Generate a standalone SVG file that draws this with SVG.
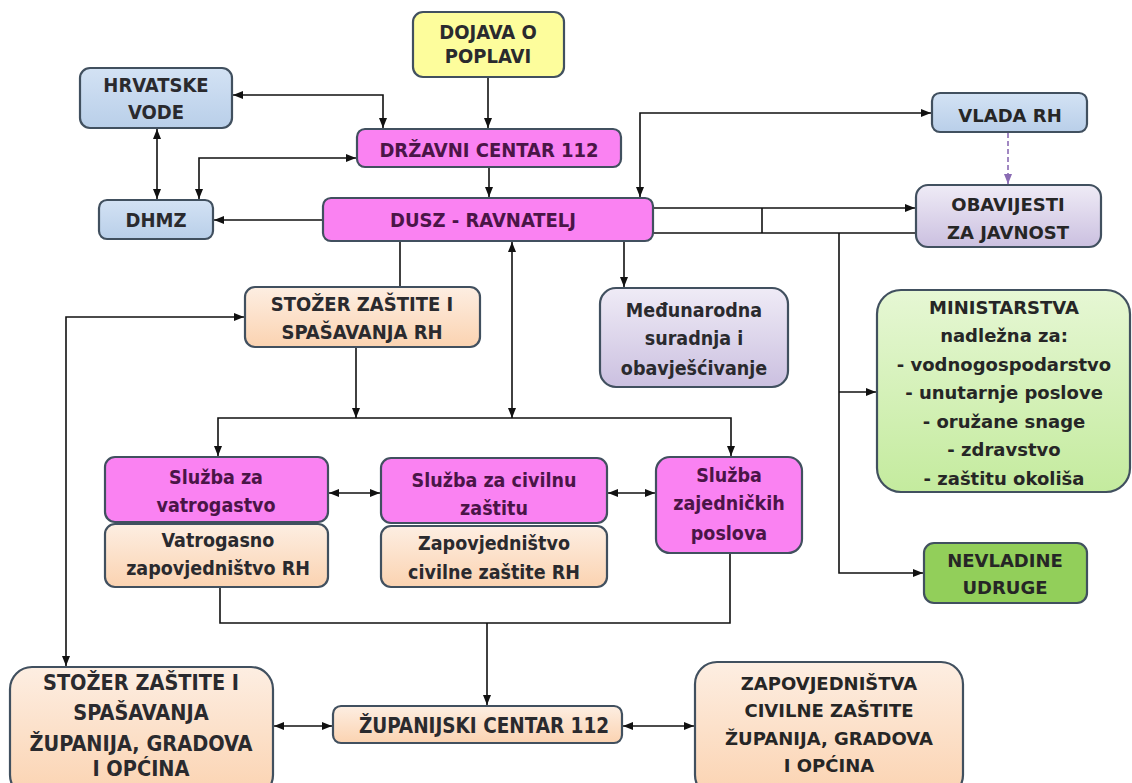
<svg xmlns="http://www.w3.org/2000/svg" width="1132" height="783" viewBox="0 0 1132 783">
<style>
.box{stroke:#41505f;stroke-width:2.2}
.mag{fill:#fa82f2}
.peach{fill:url(#gPeach)}
.blue{fill:url(#gBlue)}
.lav{fill:url(#gLav)}
.lgreen{fill:url(#gLGreen)}
.green{fill:#92cf5a}
.yellow{fill:#fdfd9c}
.t{font-family:"DejaVu Sans Condensed","DejaVu Sans",sans-serif;font-stretch:condensed;font-weight:bold;font-size:20px;text-anchor:middle;fill:#2a2a2e}
.l{font-size:19.5px}
.tm{fill:#4a1547}
.tb{font-family:"DejaVu Sans",sans-serif;font-weight:bold;font-size:18px;text-anchor:middle;fill:#262626}
.c{fill:none;stroke:#111;stroke-width:1.6}
.d{fill:none;stroke:#8a6bb3;stroke-width:1.6;stroke-dasharray:5 3}
</style>
<defs>
<linearGradient id="gPeach" x1="0" y1="0" x2="0" y2="1"><stop offset="0" stop-color="#fdeee2"/><stop offset="1" stop-color="#fbd3b1"/></linearGradient>
<linearGradient id="gBlue" x1="0" y1="0" x2="0" y2="1"><stop offset="0" stop-color="#d3e2f4"/><stop offset="1" stop-color="#b9cfe9"/></linearGradient>
<linearGradient id="gLav" x1="0" y1="0" x2="0" y2="1"><stop offset="0" stop-color="#efebf6"/><stop offset="1" stop-color="#cbc0e0"/></linearGradient>
<linearGradient id="gLGreen" x1="0" y1="0" x2="0" y2="1"><stop offset="0" stop-color="#e6f7d4"/><stop offset="1" stop-color="#c4eb9e"/></linearGradient>
<marker id="ar" viewBox="0 0 10 8" refX="10" refY="4" markerWidth="10" markerHeight="8" markerUnits="userSpaceOnUse" orient="auto-start-reverse"><path d="M0,0 L10,4 L0,8 z" fill="#111"/></marker>
<marker id="arp" viewBox="0 0 10 8" refX="10" refY="4" markerWidth="10" markerHeight="8" markerUnits="userSpaceOnUse" orient="auto"><path d="M0,0 L10,4 L0,8 z" fill="#8a6bb3"/></marker>
</defs>
<rect width="1132" height="783" fill="#ffffff"/>

<g id="connectors">
<path class="c" d="M488,78 V128" marker-end="url(#ar)"/>
<path class="c" d="M233,95 H383 V128" marker-start="url(#ar)" marker-end="url(#ar)"/>
<path class="c" d="M157,129 V199" marker-start="url(#ar)" marker-end="url(#ar)"/>
<path class="c" d="M356,158 H199 V199" marker-start="url(#ar)" marker-end="url(#ar)"/>
<path class="c" d="M489,168 V197" marker-end="url(#ar)"/>
<path class="c" d="M323,220 H214" marker-end="url(#ar)"/>
<path class="c" d="M640,197 V113 H931" marker-start="url(#ar)" marker-end="url(#ar)"/>
<path class="d" d="M1008,133 V184" marker-end="url(#arp)"/>
<path class="c" d="M653,208 H915" marker-end="url(#ar)"/>
<path class="c" d="M653,233 H916"/>
<path class="c" d="M762,208 V233"/>
<path class="c" d="M839,233 V573 H923" marker-end="url(#ar)"/>
<path class="c" d="M839,392 H876" marker-end="url(#ar)"/>
<path class="c" d="M624,241 V287" marker-end="url(#ar)"/>
<path class="c" d="M400,241 V287"/>
<path class="c" d="M512,242 V418" marker-start="url(#ar)" marker-end="url(#ar)"/>
<path class="c" d="M356,348 V418" marker-end="url(#ar)"/>
<path class="c" d="M218,456 V418 H731 V456" marker-start="url(#ar)" marker-end="url(#ar)"/>
<path class="c" d="M244,317 H66 V666" marker-start="url(#ar)" marker-end="url(#ar)"/>
<path class="c" d="M329,493 H380" marker-start="url(#ar)" marker-end="url(#ar)"/>
<path class="c" d="M608,493 H655" marker-start="url(#ar)" marker-end="url(#ar)"/>
<path class="c" d="M220,588 V623 H730 V554"/>
<path class="c" d="M487,623 V705" marker-end="url(#ar)"/>
<path class="c" d="M274,726 H332" marker-start="url(#ar)" marker-end="url(#ar)"/>
<path class="c" d="M623,726 H694" marker-start="url(#ar)" marker-end="url(#ar)"/>
</g>

<g id="dojava">
<rect class="box yellow" x="413" y="12" width="151" height="65" rx="10"/>
<text class="t" x="488" y="39">DOJAVA O</text>
<text class="t" x="488" y="63">POPLAVI</text>
</g>
<g id="hrvatske-vode">
<rect class="box blue" x="80" y="68" width="152" height="60" rx="10"/>
<text class="t" x="156" y="92">HRVATSKE</text>
<text class="t" x="156" y="119">VODE</text>
</g>
<g id="drzavni-centar">
<rect class="box mag" x="357" y="129" width="264" height="38" rx="8"/>
<text class="t tm" x="489" y="157">DRŽAVNI CENTAR 112</text>
</g>
<g id="vlada">
<rect class="box blue" x="932" y="93" width="155" height="39" rx="8"/>
<text class="tb" x="1010" y="121.5">VLADA RH</text>
</g>
<g id="dhmz">
<rect class="box blue" x="99" y="200" width="114" height="39" rx="8"/>
<text class="t" x="156" y="227">DHMZ</text>
</g>
<g id="dusz">
<rect class="box mag" x="323" y="198" width="330" height="43" rx="8"/>
<text class="t tm" x="483" y="227">DUSZ - RAVNATELJ</text>
</g>
<g id="obavijesti">
<rect class="box lav" x="916" y="185" width="185" height="62" rx="12"/>
<text class="tb" x="1008" y="210.5">OBAVIJESTI</text>
<text class="tb" x="1008" y="238.5">ZA JAVNOST</text>
</g>
<g id="stozer-rh">
<rect class="box peach" x="245" y="287" width="235" height="60" rx="10"/>
<text class="t" x="362" y="311">STOŽER ZAŠTITE I</text>
<text class="t" x="362" y="339">SPAŠAVANJA RH</text>
</g>
<g id="medunarodna">
<rect class="box lav" x="600" y="288" width="188" height="99" rx="16"/>
<text class="t l" x="694" y="317">Međunarodna</text>
<text class="t l" x="694" y="345">suradnja i</text>
<text class="t l" x="694" y="375">obavješćivanje</text>
</g>
<g id="ministarstva">
<rect class="box lgreen" x="877" y="290" width="253" height="202" rx="24"/>
<text class="tb" x="1004" y="313.5">MINISTARSTVA</text>
<text class="tb" x="1004" y="341.5">nadležna za:</text>
<text class="tb" x="1004" y="370.5">- vodnogospodarstvo</text>
<text class="tb" x="1004" y="398.5">- unutarnje poslove</text>
<text class="tb" x="1004" y="427.5">- oružane snage</text>
<text class="tb" x="1004" y="455.5">- zdravstvo</text>
<text class="tb" x="1004" y="484.5">- zaštitu okoliša</text>
</g>
<g id="sluzba-vatrogastvo">
<rect class="box mag" x="105" y="457" width="223" height="65" rx="10"/>
<text class="t l tm" x="216" y="484">Služba za</text>
<text class="t l tm" x="216" y="512">vatrogastvo</text>
</g>
<g id="vatrogasno-zapovjednistvo">
<rect class="box peach" x="105" y="524" width="223" height="63" rx="10"/>
<text class="t l" x="218" y="547">Vatrogasno</text>
<text class="t l" x="218" y="575">zapovjedništvo RH</text>
</g>
<g id="sluzba-civilna">
<rect class="box mag" x="381" y="458" width="226" height="65" rx="10"/>
<text class="t l tm" x="494" y="487">Služba za civilnu</text>
<text class="t l tm" x="494" y="515">zaštitu</text>
</g>
<g id="zapovjednistvo-cz">
<rect class="box peach" x="381" y="526" width="226" height="61" rx="10"/>
<text class="t l" x="494" y="550">Zapovjedništvo</text>
<text class="t l" x="494" y="579">civilne zaštite RH</text>
</g>
<g id="sluzba-zajednickih">
<rect class="box mag" x="656" y="457" width="146" height="96" rx="14"/>
<text class="t l tm" x="729" y="482">Služba</text>
<text class="t l tm" x="729" y="510">zajedničkih</text>
<text class="t l tm" x="729" y="540">poslova</text>
</g>
<g id="nevladine">
<rect class="box green" x="924" y="543" width="163" height="60" rx="10"/>
<text class="tb" x="1005" y="566.5">NEVLADINE</text>
<text class="tb" x="1005" y="593.5">UDRUGE</text>
</g>
<g id="stozer-zupanija">
<rect class="box peach" x="10" y="667" width="263" height="130" rx="22"/>
<text class="t" style="font-size:21.5px" x="141" y="690">STOŽER ZAŠTITE I</text>
<text class="t" style="font-size:21.5px" x="141" y="720">SPAŠAVANJA</text>
<text class="t" style="font-size:21.5px" x="141" y="751">ŽUPANIJA, GRADOVA</text>
<text class="t" style="font-size:21.5px" x="141" y="776">I OPĆINA</text>
</g>
<g id="zupanijski-centar">
<rect class="box peach" x="333" y="706" width="289" height="37" rx="8"/>
<text class="t" style="font-size:20.5px" x="484" y="733">ŽUPANIJSKI CENTAR 112</text>
</g>
<g id="zapovjednistva-zupanija">
<rect class="box peach" x="695" y="662" width="268" height="135" rx="22"/>
<text class="tb" x="829" y="690">ZAPOVJEDNIŠTVA</text>
<text class="tb" x="829" y="717">CIVILNE ZAŠTITE</text>
<text class="tb" x="829" y="745">ŽUPANIJA, GRADOVA</text>
<text class="tb" x="829" y="772">I OPĆINA</text>
</g>
</svg>
